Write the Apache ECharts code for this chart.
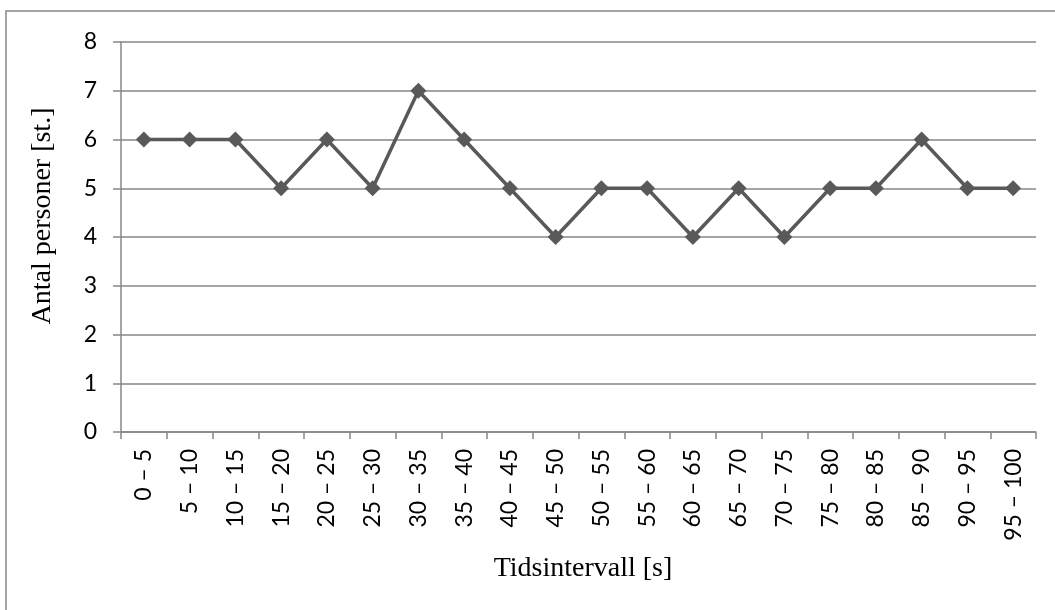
<!DOCTYPE html>
<html>
<head>
<meta charset="utf-8">
<script src="https://cdn.jsdelivr.net/npm/echarts@6/dist/echarts.min.js"></script>
<style>
  html, body { margin: 0; padding: 0; background: #fff; }
  #chart { width: 1055px; height: 610px; }
</style>
</head>
<body>
<div id="chart"></div>
<script>
// Time intervals in seconds
const categories = [
  '0 – 5', '5 – 10', '10 – 15', '15 – 20', '20 – 25', '25 – 30', '30 – 35',
  '35 – 40', '40 – 45', '45 – 50', '50 – 55', '55 – 60', '60 – 65', '65 – 70',
  '70 – 75', '75 – 80', '80 – 85', '85 – 90', '90 – 95', '95 – 100'
];
// Number of persons counted per interval
const persons = [6, 6, 6, 5, 6, 5, 7, 6, 5, 4, 5, 5, 4, 5, 4, 5, 5, 6, 5, 5];

const xTitle = 'Tidsintervall [s]';
const yTitle = 'Antal personer [st.]';

const axisGray = '#878787';
const labelFont = 'Lato, "Open Sans", sans-serif';
const titleFont = '28px "Liberation Serif", "DejaVu Serif", serif';

const chart = echarts.init(document.getElementById('chart'), null, { renderer: 'canvas' });
chart.setOption({
  animation: false,
  backgroundColor: '#ffffff',
  graphic: [
    {
      // chart frame
      type: 'rect',
      shape: { x: 6, y: 11, width: 1100, height: 700 },
      style: { fill: 'none', stroke: axisGray, lineWidth: 1.5 },
      silent: true
    },
    {
      type: 'text',
      x: 583, y: 569,
      style: { text: xTitle, font: titleFont, fill: '#000', textAlign: 'center', textVerticalAlign: 'middle' },
      silent: true
    },
    {
      type: 'text',
      x: 42.5, y: 216,
      rotation: Math.PI / 2,
      style: { text: yTitle, font: titleFont, fill: '#000', textAlign: 'center', textVerticalAlign: 'middle' },
      silent: true
    }
  ],
  grid: { left: 121, right: 19, top: 42, bottom: 178 },
  xAxis: {
    type: 'category',
    data: categories,
    boundaryGap: true,
    axisLine: { show: true, lineStyle: { color: axisGray, width: 1.5 } },
    axisTick: { show: true, alignWithLabel: false, length: 7, lineStyle: { color: axisGray, width: 1.5 } },
    axisLabel: {
      rotate: 90,
      margin: 17,
      interval: 0,
      fontFamily: labelFont,
      fontSize: 23,
      color: '#000'
    },
    splitLine: { show: false }
  },
  yAxis: {
    type: 'value',
    min: 0,
    max: 8,
    interval: 1,
    axisLine: { show: true, lineStyle: { color: axisGray, width: 1.5 } },
    axisTick: { show: true, inside: false, length: 8, lineStyle: { color: axisGray, width: 1.5 } },
    axisLabel: {
      margin: 24,
      fontFamily: labelFont,
      fontSize: 23,
      color: '#000'
    },
    splitLine: { show: true, lineStyle: { color: axisGray, width: 1.5 } }
  },
  series: [{
    type: 'line',
    data: persons,
    symbol: 'diamond',
    symbolSize: 16,
    showSymbol: true,
    lineStyle: { color: '#595959', width: 3.5 },
    itemStyle: { color: '#595959' }
  }]
});
</script>
</body>
</html>
